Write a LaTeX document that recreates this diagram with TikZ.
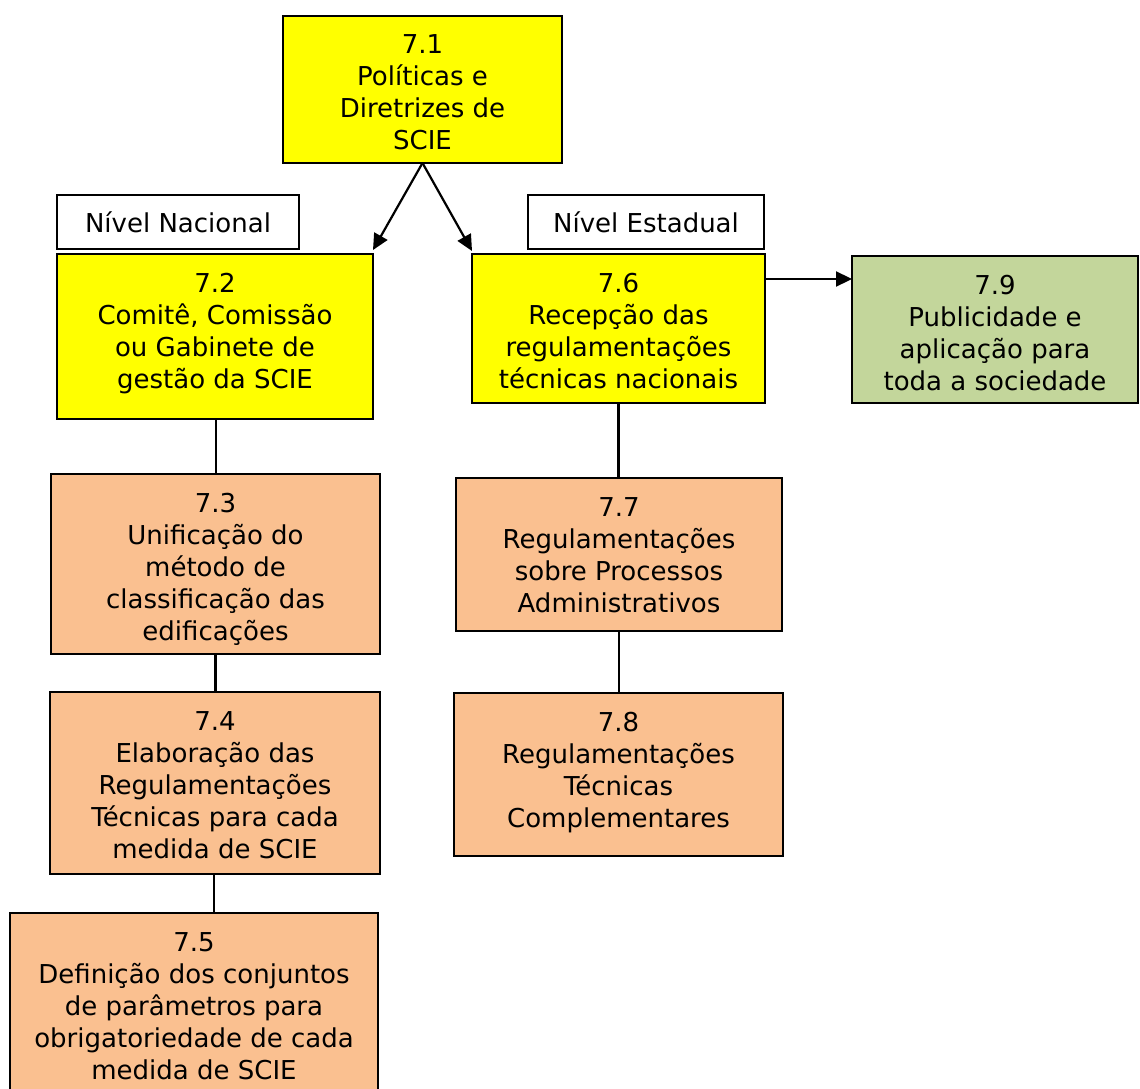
\documentclass[tikz,border=0pt]{standalone}
\usepackage{fontspec}
\setmainfont{DejaVu Sans}
\usepackage{xcolor}
\usetikzlibrary{arrows.meta}

\definecolor{boxyellow}{HTML}{FFFF00}
\definecolor{boxorange}{HTML}{FAC090}
\definecolor{boxgreen}{HTML}{C3D69B}

% text set from the top of a box of given width and height
\newcommand{\boxtext}[3]{\parbox[c][#2][t]{#1}{\centering\rule{0pt}{38pt}#3}}

\tikzset{
  basebox/.style={draw=black, line width=2pt, rectangle, inner sep=0pt, outer sep=0pt,
    align=center, font=\fontsize{26pt}{32pt}\selectfont},
  yellowbox/.style={basebox, fill=boxyellow},
  orangebox/.style={basebox, fill=boxorange},
  greenbox/.style={basebox, fill=boxgreen},
  levelbox/.style={basebox, fill=white},
  link/.style={line width=2.2pt},
  arrowlink/.style={line width=2.2pt, -{Triangle[length=16pt,width=15pt]}},
}

\begin{document}
\begin{tikzpicture}[x=1pt, y=-1pt]
  \useasboundingbox (0,0) rectangle (1140,1089);

  % top
  \node[yellowbox] (p71) at (422.5,89.5)
    {\boxtext{279pt}{147pt}{7.1\\Políticas e\\Diretrizes de\\SCIE}};

  % level labels
  \node[levelbox, minimum width=242pt, minimum height=54pt] (nacional) at (178,222) {Nível Nacional};
  \node[levelbox, minimum width=236pt, minimum height=54pt] (estadual) at (646,222) {Nível Estadual};

  % national branch
  \node[yellowbox] (p72) at (215,336.5)
    {\boxtext{316pt}{165pt}{7.2\\Comitê, Comissão\\ou Gabinete de\\gestão da SCIE}};
  \node[orangebox] (p73) at (215.5,564)
    {\boxtext{329pt}{180pt}{7.3\\Unificação do\\método de\\classificação das\\edificações}};
  \node[orangebox] (p74) at (215,783)
    {\boxtext{330pt}{182pt}{7.4\\Elaboração das\\Regulamentações\\Técnicas para cada\\medida de SCIE}};
  \node[orangebox] (p75) at (194,1004)
    {\boxtext{368pt}{182pt}{7.5\\Definição dos conjuntos\\de parâmetros para\\obrigatoriedade de cada\\medida de SCIE}};

  % state branch
  \node[yellowbox] (p76) at (618.5,328.5)
    {\boxtext{293pt}{149pt}{7.6\\Recepção das\\regulamentações\\técnicas nacionais}};
  \node[orangebox] (p77) at (619,554.5)
    {\boxtext{326pt}{153pt}{7.7\\Regulamentações\\sobre Processos\\Administrativos}};
  \node[orangebox] (p78) at (618.5,774.5)
    {\boxtext{329pt}{163pt}{7.8\\Regulamentações\\Técnicas\\Complementares}};
  \node[greenbox] (p79) at (995,329.5)
    {\boxtext{286pt}{147pt}{7.9\\Publicidade e\\aplicação para\\toda a sociedade}};

  % connectors
  \draw[arrowlink] (p71.south) -- ([yshift=4pt]p72.north east);
  \draw[arrowlink] (p71.south) -- ([yshift=3pt]p76.north west);
  \draw[arrowlink] ([yshift=49.5pt]p76.east) -- ([yshift=49.5pt]p76.east -| p79.west);

  \draw[link] ([xshift=1pt]p72.south) -- ([xshift=1pt]p72.south |- p73.north);
  \draw[link] (p73.south) -- (p73.south |- p74.north);
  \draw[link] ([xshift=-1pt]p74.south) -- ([xshift=-1pt]p74.south |- p75.north);
  \draw[link] (p76.south) -- (p76.south |- p77.north);
  \draw[link] (p77.south) -- (p77.south |- p78.north);
\end{tikzpicture}
\end{document}
